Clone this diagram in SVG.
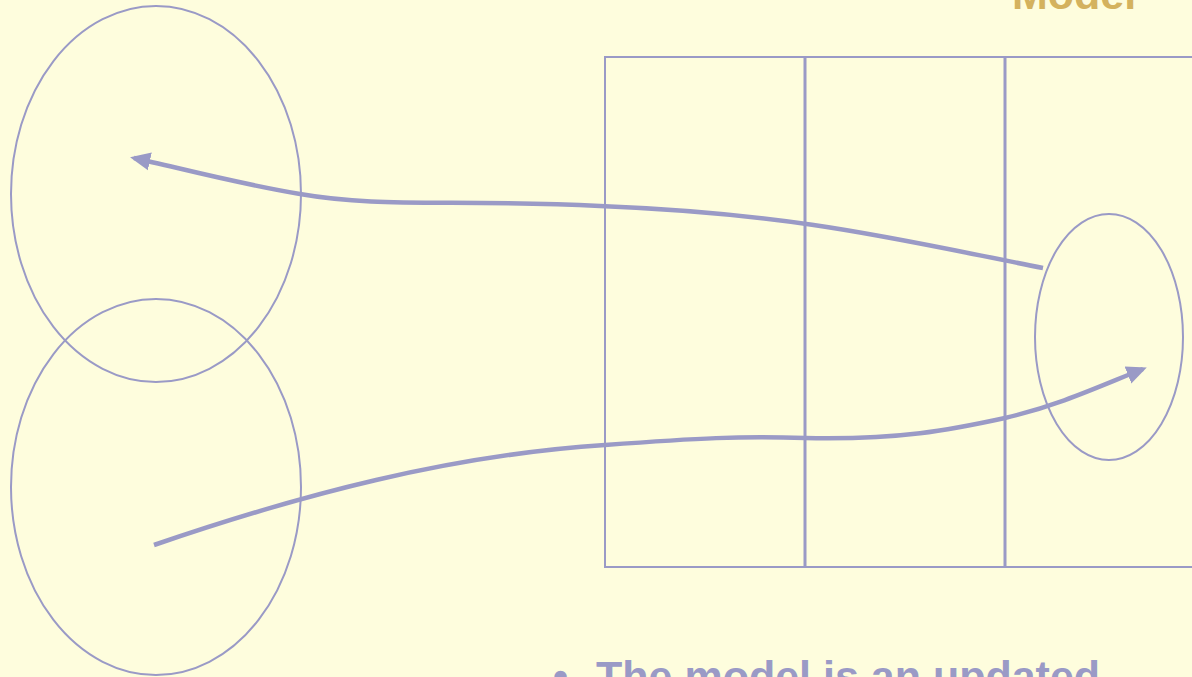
<svg xmlns="http://www.w3.org/2000/svg" width="1192" height="677" viewBox="0 0 1192 677">
<defs>
<style>
.sh{fill:none;stroke:#9a9ac6;stroke-width:2}
.div{fill:none;stroke:#9a9ac6;stroke-width:3}
.con{fill:none;stroke:#9a9ac6;stroke-width:4.5}
.t{font-family:"Liberation Sans",Arial,sans-serif;font-weight:bold;font-size:43px}
</style>
<marker id="ah" viewBox="0 0 10 10" refX="8" refY="5" markerWidth="4.5" markerHeight="4.5" orient="auto" markerUnits="strokeWidth">
<path d="M0,0.5 L10,5 L0,9.5 z" fill="#9a9ac6"/>
</marker>
</defs>
<rect width="1192" height="677" fill="#fefddd"/>
<g id="model-label"><text class="t" x="1012" y="9" fill="#d4b25e">Model</text></g>
<g id="table">
<rect class="sh" x="605" y="57" width="600" height="510"/>
<line class="div" x1="805" y1="57" x2="805" y2="567"/>
<line class="div" x1="1005" y1="57" x2="1005" y2="567"/>
</g>
<g id="ellipse-top"><ellipse class="sh" cx="156" cy="194" rx="145" ry="188"/></g>
<g id="ellipse-bottom"><ellipse class="sh" cx="156" cy="487" rx="145" ry="188"/></g>
<g id="ellipse-right"><ellipse class="sh" cx="1109" cy="337" rx="74" ry="123"/></g>
<g id="connectors">
<path class="con" marker-end="url(#ah)" d="M1043,268 C900,240 800,214 600,206 C450,199 380,208 300,194 C230,182 180,168 134,158"/>
<path class="con" marker-end="url(#ah)" d="M154,545 C300,495 450,455 605,445 C700,438 740,436 805,438 C900,440 950,430 1005,418 C1060,405 1100,386 1143,369"/>
</g>
<g id="bullet-text">
<text class="t" x="553" y="691" fill="#9a9ac6" font-size="36">•</text>
<text class="t" x="596" y="691" fill="#9a9ac6">The model is an updated</text>
</g>
</svg>
